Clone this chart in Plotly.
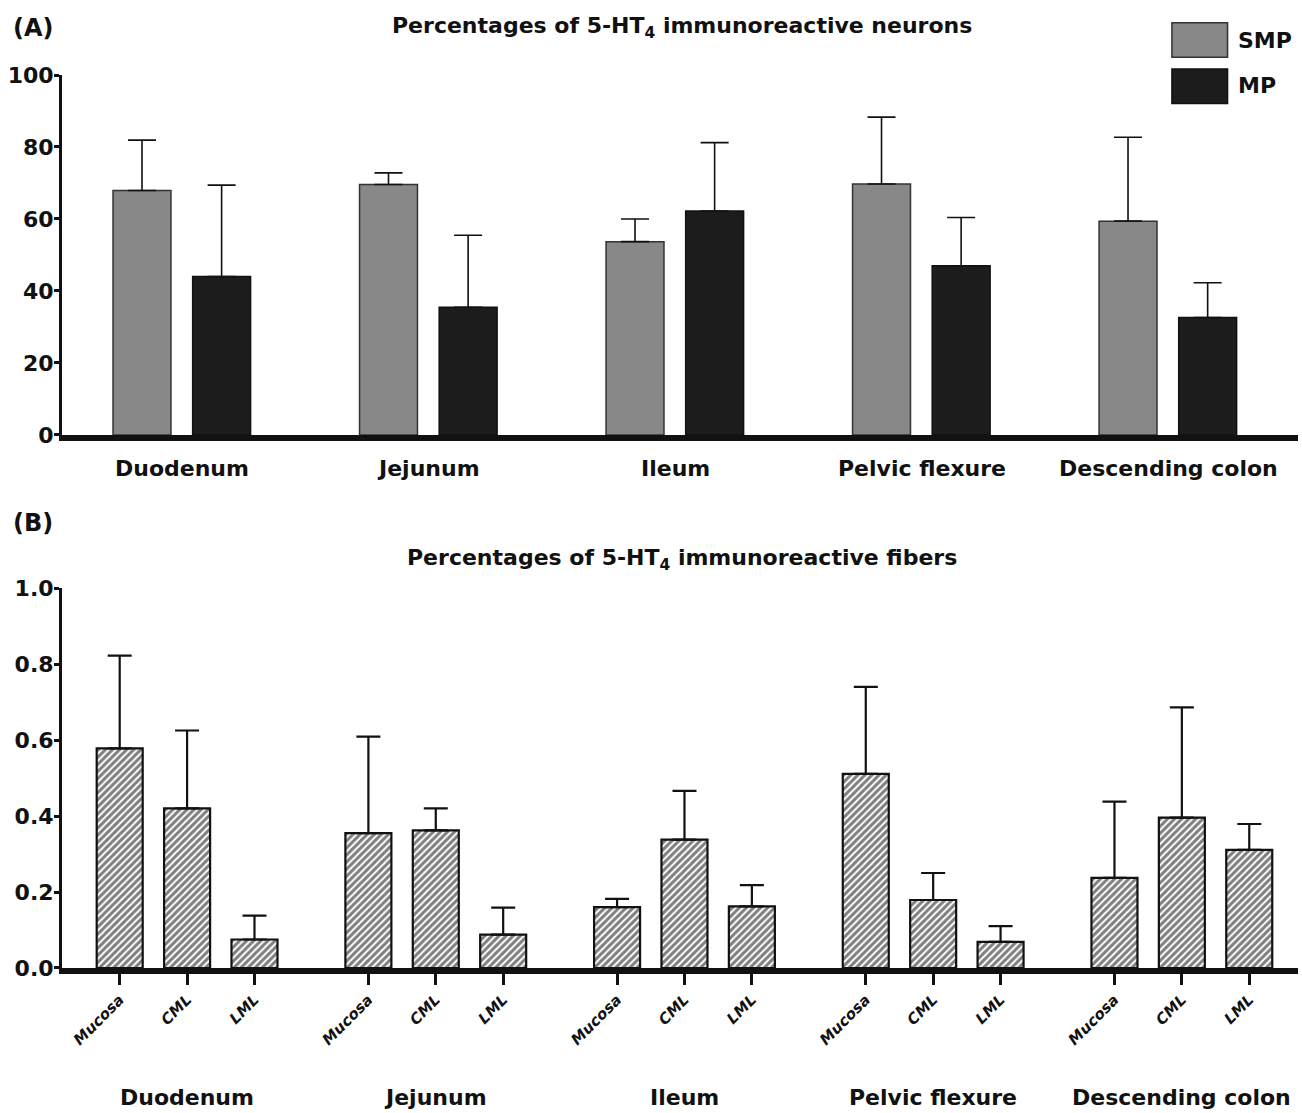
import plotly.graph_objects as go

# ---------------- data ----------------
regions = ["Duodenum", "Jejunum", "Ileum", "Pelvic flexure", "Descending colon"]

# Panel A: percentages of 5-HT4 immunoreactive neurons
smp_mean = [67.9, 69.6, 53.7, 69.7, 59.4]
smp_upper = [81.9, 72.8, 60.0, 88.3, 82.7]
mp_mean = [44.0, 35.5, 62.2, 47.0, 32.6]
mp_upper = [69.4, 55.5, 81.2, 60.4, 42.3]

# Panel B: percentages of 5-HT4 immunoreactive fibers
layers = ["Mucosa", "CML", "LML"]
mucosa_mean = [0.578, 0.355, 0.160, 0.511, 0.237]
mucosa_upper = [0.822, 0.609, 0.182, 0.740, 0.438]
cml_mean = [0.420, 0.362, 0.338, 0.179, 0.396]
cml_upper = [0.625, 0.420, 0.466, 0.250, 0.686]
lml_mean = [0.075, 0.088, 0.162, 0.069, 0.311]
lml_upper = [0.138, 0.159, 0.218, 0.110, 0.379]

# ---------------- styling ----------------
FONT = "DejaVu Sans, Liberation Sans, Arial, sans-serif"
SMP_COLOR = "#888888"
MP_COLOR = "#1c1c1c"
INK = "#111111"

idx = list(range(len(regions)))

fig = go.Figure()


def upper_err(mean, upper):
    return [u - m for m, u in zip(mean, upper)]


# Panel A bars
barw_a = 0.235
fig.add_trace(go.Bar(
    x=idx, y=smp_mean, name="SMP", width=barw_a, offset=-0.28,
    marker=dict(color=SMP_COLOR, line=dict(color="#333333", width=1.5)),
    error_y=dict(type="data", symmetric=False, array=upper_err(smp_mean, smp_upper),
                 arrayminus=[0] * 5, color=INK, thickness=1.6, width=14),
    xaxis="x", yaxis="y", showlegend=False,
))
fig.add_trace(go.Bar(
    x=idx, y=mp_mean, name="MP", width=barw_a, offset=0.043,
    marker=dict(color=MP_COLOR, line=dict(color=INK, width=1.5)),
    error_y=dict(type="data", symmetric=False, array=upper_err(mp_mean, mp_upper),
                 arrayminus=[0] * 5, color=INK, thickness=1.6, width=14),
    xaxis="x", yaxis="y", showlegend=False,
))

# Panel B bars
barw_b = 0.185
step_b = 0.271
b_means = [mucosa_mean, cml_mean, lml_mean]
b_uppers = [mucosa_upper, cml_upper, lml_upper]
for j, (lay, mean, upper) in enumerate(zip(layers, b_means, b_uppers)):
    off = (j - 1) * step_b
    fig.add_trace(go.Bar(
        x=[g + off for g in idx], y=mean, name=lay, width=barw_b,
        marker=dict(color="white",
                    pattern=dict(shape="/", fgcolor="#000000", bgcolor="white",
                                 size=5, solidity=0.6),
                    line=dict(color=INK, width=2.2)),
        error_y=dict(type="data", symmetric=False, array=upper_err(mean, upper),
                     arrayminus=[0] * 5, color=INK, thickness=2.2, width=12),
        xaxis="x2", yaxis="y2", showlegend=False,
    ))
tickvals_b, ticktext_b = [], []
for g in idx:
    for j, lay in enumerate(layers):
        tickvals_b.append(g + (j - 1) * step_b)
        ticktext_b.append(lay)

axis_font = dict(family=FONT, size=22, color=INK, weight="bold")

fig.update_layout(
    width=1302, height=1113,
    margin=dict(l=62, r=4, t=75, b=145),
    paper_bgcolor="white", plot_bgcolor="white",
    barmode="overlay",
    font=dict(family=FONT, color=INK),
    xaxis=dict(domain=[0, 1], range=[-0.487, 4.527], anchor="y",
               showline=True, linewidth=6, linecolor=INK,
               showticklabels=False, ticks="", showgrid=False, zeroline=False),
    yaxis=dict(domain=[0.5969, 1.0], range=[0, 100], anchor="x",
               tickmode="array", tickvals=[0, 20, 40, 60, 80, 100],
               showline=True, linewidth=3, linecolor=INK,
               ticks="outside", ticklen=5, tickwidth=3, tickcolor=INK,
               ticklabelstandoff=-4,
               tickfont=axis_font, showgrid=False, zeroline=False),
    xaxis2=dict(domain=[0, 1], range=[-0.503, 4.467], anchor="y2",
                showline=True, linewidth=6, linecolor=INK,
                tickmode="array", tickvals=tickvals_b, ticktext=ticktext_b,
                ticks="outside", ticklen=11, tickwidth=2.5, tickcolor=INK,
                tickangle=-45,
                tickfont=dict(family=FONT, size=15, color=INK,
                              style="italic", weight="bold"),
                showgrid=False, zeroline=False),
    yaxis2=dict(domain=[0.0, 0.4255], range=[0, 1.0], anchor="x2",
                tickmode="array", tickvals=[0, 0.2, 0.4, 0.6, 0.8, 1.0],
                tickformat=".1f",
                showline=True, linewidth=3, linecolor=INK,
                ticks="outside", ticklen=5, tickwidth=3, tickcolor=INK,
                ticklabelstandoff=-4,
                tickfont=axis_font, showgrid=False, zeroline=False),
)

bold22 = dict(family=FONT, size=22, color=INK, weight="bold")
ann = []
# Panel letters
ann.append(dict(text="(A)", xref="paper", yref="paper", x=-0.041, y=1.053,
                xanchor="left", yanchor="middle", showarrow=False,
                font=dict(family=FONT, size=24, color=INK, weight="bold")))
ann.append(dict(text="(B)", xref="paper", yref="paper", x=-0.041, y=0.4987,
                xanchor="left", yanchor="middle", showarrow=False,
                font=dict(family=FONT, size=24, color=INK, weight="bold")))
# Titles
ann.append(dict(text="Percentages of 5-HT<sub>4</sub> immunoreactive neurons",
                xref="paper", yref="paper", x=0.502, y=1.053,
                xanchor="center", yanchor="middle", showarrow=False, font=bold22))
ann.append(dict(text="Percentages of 5-HT<sub>4</sub> immunoreactive fibers",
                xref="paper", yref="paper", x=0.502, y=0.457,
                xanchor="center", yanchor="middle", showarrow=False, font=bold22))
# Region labels
for g, name in zip(idx, regions):
    ann.append(dict(text=name, xref="x", yref="paper", x=g, y=0.5597,
                    xanchor="center", yanchor="middle", showarrow=False, font=bold22))
    ann.append(dict(text=name, xref="x2", yref="paper", x=g, y=-0.1445,
                    xanchor="center", yanchor="middle", showarrow=False, font=bold22))
# Legend text
ann.append(dict(text="SMP", xref="paper", yref="paper", x=0.950, y=1.039,
                xanchor="left", yanchor="middle", showarrow=False, font=bold22))
ann.append(dict(text="MP", xref="paper", yref="paper", x=0.950, y=0.988,
                xanchor="left", yanchor="middle", showarrow=False, font=bold22))
fig.update_layout(annotations=ann)

# Legend swatches
fig.add_shape(type="rect", xref="paper", yref="paper", x0=0.898, x1=0.943,
              y0=1.0198, y1=1.0586, fillcolor=SMP_COLOR,
              line=dict(color="#333333", width=1.5))
fig.add_shape(type="rect", xref="paper", yref="paper", x0=0.898, x1=0.943,
              y0=0.968, y1=1.0067, fillcolor=MP_COLOR,
              line=dict(color=INK, width=1.5))

fig.write_html("out.html",
               config={"displayModeBar": False},
               post_script="document.body.style.margin='0px';"
                           "document.body.style.overflow='hidden';")
